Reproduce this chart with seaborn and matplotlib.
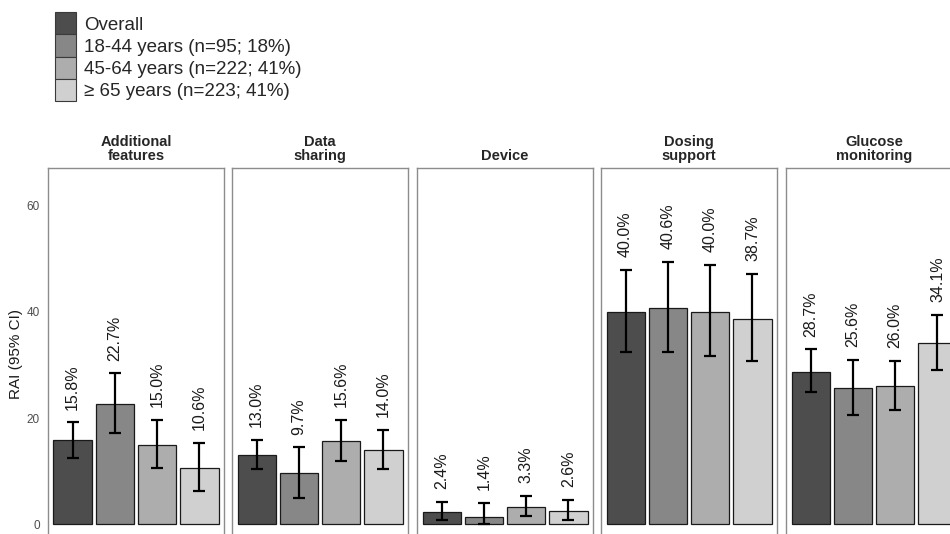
import numpy as np
import pandas as pd
import matplotlib
matplotlib.use('Agg')
import matplotlib.pyplot as plt
import matplotlib.patches as mpatches
import seaborn as sns

# data
features = ['Additional\nfeatures', 'Data\nsharing', 'Device', 'Dosing\nsupport', 'Glucose\nmonitoring']
groups = ['Overall', '18-44 years (n=95; 18%)', '45-64 years (n=222; 41%)', '\u2265 65 years (n=223; 41%)']
colors = ['#4d4d4d', '#878787', '#adadad', '#d0d0d0']

rai = [
    [15.8, 22.7, 15.0, 10.6],
    [13.0, 9.7, 15.6, 14.0],
    [2.4, 1.4, 3.3, 2.6],
    [40.0, 40.6, 40.0, 38.7],
    [28.7, 25.6, 26.0, 34.1],
]
ci_low = [
    [12.5, 17.2, 10.6, 6.3],
    [10.4, 5.0, 11.9, 10.4],
    [0.8, 0.1, 1.5, 0.8],
    [32.5, 32.4, 31.7, 30.8],
    [24.9, 20.5, 21.6, 29.1],
]
ci_high = [
    [19.2, 28.4, 19.7, 15.3],
    [15.9, 14.5, 19.7, 17.8],
    [4.3, 4.0, 5.4, 4.6],
    [47.8, 49.4, 48.8, 47.1],
    [32.9, 31.0, 30.8, 39.4],
]

rows = []
for i, f in enumerate(features):
    for j, g in enumerate(groups):
        rows.append({'feature': f, 'group': g, 'rai': rai[i][j],
                     'lo': ci_low[i][j], 'hi': ci_high[i][j]})
df = pd.DataFrame(rows)

sns.set_style('white')
plt.rcParams['font.family'] = ['Liberation Sans', 'DejaVu Sans']

W, H = 950, 534
fig = plt.figure(figsize=(W / 100, H / 100), dpi=100)

panel_left = [48, 232, 417, 601, 786]
panel_w = 176
top_px = 168
ymin, ymax = -3, 67
px_per_unit = 5.32
ax_h = (ymax - ymin) * px_per_unit
bottom_px = top_px + ax_h

pal = dict(zip(groups, colors))

for i, f in enumerate(features):
    ax = fig.add_axes([panel_left[i] / W, (H - bottom_px) / H, panel_w / W, ax_h / H])
    sub = df[df['feature'] == f]
    sns.barplot(data=sub, x='group', y='rai', hue='group', order=groups, hue_order=groups,
                palette=pal, width=0.9, edgecolor='#1a1a1a', linewidth=0.9,
                legend=False, ax=ax, errorbar=None)
    x = np.arange(len(groups))
    vals = sub['rai'].values
    ax.errorbar(x, vals, yerr=[vals - sub['lo'].values, sub['hi'].values - vals],
                fmt='none', ecolor='black', elinewidth=1.6, capsize=4, capthick=1.6)
    for xi, v, hi in zip(x, vals, sub['hi'].values):
        ax.text(xi, hi + 2.4, f'{v:.1f}%', rotation=90, ha='center', va='bottom',
                fontsize=11.5, color='#1a1a1a')
    ax.set_xlim(-0.58, 3.58)
    ax.set_ylim(ymin, ymax)
    ax.set_xlabel('')
    ax.set_xticks([])
    ax.set_title(f, fontsize=10.5, fontweight='bold', pad=6, linespacing=1.0)
    for s in ax.spines.values():
        s.set_color('#8c8c8c')
        s.set_linewidth(1.0)
    if i == 0:
        ax.set_yticks([0, 20, 40, 60])
        ax.tick_params(axis='y', length=0, labelsize=8.5, labelcolor='#4d4d4d', pad=6)
        ax.set_ylabel('RAI (95% CI)', fontsize=11, color='#1a1a1a')
        ax.yaxis.set_label_coords(-0.14, 0.5)
    else:
        ax.set_yticks([])
        ax.set_ylabel('')

handles = [mpatches.Patch(facecolor=c, edgecolor='#3a3a3a', linewidth=0.8, label=g)
           for g, c in zip(groups, colors)]
fig.legend(handles=handles, loc='upper left', bbox_to_anchor=(43 / W, 1),
           frameon=False, fontsize=13.5, handlelength=1.1, handleheight=1.45,
           handletextpad=0.45, labelspacing=0.0, borderpad=0.15)

fig.savefig('out.png', dpi=100)
